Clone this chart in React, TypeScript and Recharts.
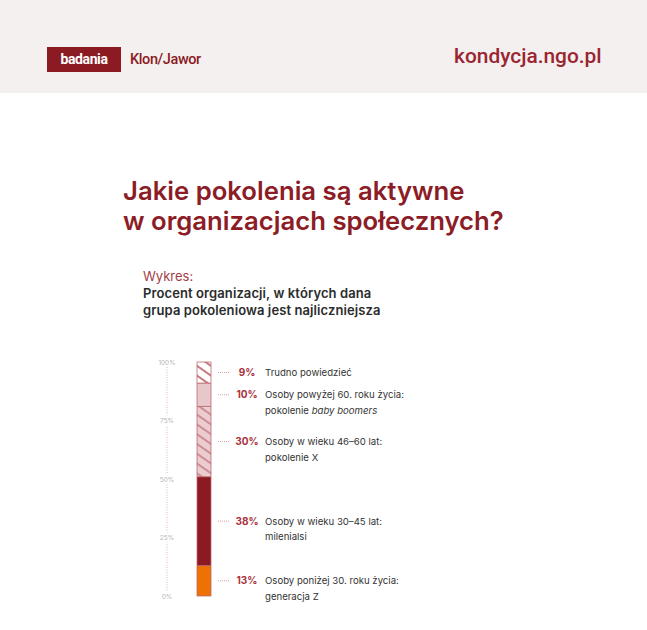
import React from 'react';
import { BarChart, Bar, XAxis, YAxis, LabelList } from 'recharts';

// one stacked column, bottom -> top
const categories = ['Organizacje'];
const seriesKeys = ['genZ', 'milenialsi', 'genX', 'boomers', 'trudno'];
const seriesValues = [13, 38, 30, 10, 9];
const percentLabels = ['13%', '38%', '30%', '10%', '9%'];
const descriptions = [
  ['Osoby poniżej 30. roku życia:', 'generacja Z'],
  ['Osoby w wieku 30–45 lat:', 'milenialsi'],
  ['Osoby w wieku 46–60 lat:', 'pokolenie X'],
  ['Osoby powyżej 60. roku życia:', 'pokolenie |baby boomers'],
  ['Trudno powiedzieć'],
];
const yTicks = [0, 25, 50, 75, 100];
const yTickLabels = ['0%', '25%', '50%', '75%', '100%'];

const fills = ['#EE7203', '#8C1A23', 'url(#hatchPink)', '#E7C7C9', 'url(#hatchWhite)'];

const RED = '#8C1C25';
const FONT = 'Inter, "Noto Sans", sans-serif';

const data = categories.map((name) => {
  const row: Record<string, string | number> = { name };
  seriesKeys.forEach((k, i) => (row[k] = seriesValues[i]));
  return row;
});

const YTick = (props: any) => {
  const { x, y, payload } = props;
  const idx = yTicks.indexOf(payload.value);
  return (
    <g>
      <rect x={x - 11} y={y - 5} width={22} height={10} fill="#fff" />
      <text x={x} y={y} dy={2.5} textAnchor="middle" fontSize={6.5} fill="#B5B5B5" fontFamily={FONT}>
        {yTickLabels[idx]}
      </text>
    </g>
  );
};

const renderLine = (line: string) => {
  const parts = line.split('|');
  if (parts.length === 1) return line;
  return (
    <>
      {parts[0]}
      <tspan fontStyle="italic">{parts[1]}</tspan>
    </>
  );
};

const makeLabel = (i: number) => (props: any) => {
  const vb = props.viewBox ?? props;
  const x = Number(vb.x);
  const y = Number(vb.y);
  const w = Number(vb.width);
  const h = Number(vb.height);
  const cy = y + h / 2;
  const left = x + w;
  return (
    <g fontFamily={FONT}>
      <line x1={left + 7} x2={left + 19} y1={cy} y2={cy} stroke="#C9868B" strokeWidth={0.8} strokeDasharray="1 1" />
      <text x={left + 36} y={cy} dy={3.5} textAnchor="middle" fontSize={10} fontWeight={700} fill="#A8323C">
        {percentLabels[i]}
      </text>
      {descriptions[i].map((line, j) => (
        <text key={j} x={left + 54} y={cy + j * 15.5} dy={3.5} fontSize={9.6} fill="#333">
          {renderLine(line)}
        </text>
      ))}
    </g>
  );
};

export default function App() {
  return (
    <div style={{ position: 'absolute', left: 0, top: 0, width: 647, height: 630, background: '#fff', fontFamily: FONT, overflow: 'hidden' }}>
      <svg width={0} height={0} style={{ position: 'absolute' }}>
        <defs>
          <pattern id="hatchWhite" patternUnits="userSpaceOnUse" width={8} height={8} patternTransform="rotate(35)">
            <rect width={8} height={8} fill="#fff" />
            <line x1={0} y1={1} x2={8} y2={1} stroke="#A9434D" strokeWidth={1.4} />
          </pattern>
          <pattern id="hatchPink" patternUnits="userSpaceOnUse" width={8} height={8} patternTransform="rotate(35)">
            <rect width={8} height={8} fill="#EBCDD0" />
            <line x1={0} y1={1} x2={8} y2={1} stroke="#BD6A72" strokeWidth={1.3} />
          </pattern>
        </defs>
      </svg>

      {/* header band */}
      <div style={{ position: 'absolute', left: 0, top: 0, width: 647, height: 93, background: '#F4F0F0' }} />
      <div style={{ position: 'absolute', left: 47, top: 47, width: 74, height: 25, background: '#8B1A22', color: '#fff', fontFamily: 'Roboto, sans-serif', fontWeight: 700, fontSize: 14, lineHeight: '25px', textAlign: 'center', letterSpacing: -0.4 }}>
        badania
      </div>
      <div style={{ position: 'absolute', left: 130, top: 51, color: '#8B1A22', fontFamily: 'Roboto, sans-serif', fontWeight: 500, fontSize: 14.5, lineHeight: '18px', letterSpacing: -0.4 }}>
        Klon/Jawor
      </div>
      <div style={{ position: 'absolute', left: 454, top: 43, color: '#9A2530', fontFamily: 'Roboto, sans-serif', fontWeight: 500, fontSize: 20.9, lineHeight: '26px' }}>
        kondycja.ngo.pl
      </div>

      {/* title */}
      <div style={{ position: 'absolute', left: 123, top: 175.5, color: RED, fontWeight: 600, fontSize: 25.7, lineHeight: '30.5px', letterSpacing: 0 }}>
        Jakie pokolenia są aktywne
        <br />w organizacjach społecznych?
      </div>
      <div style={{ position: 'absolute', left: 143, top: 268, color: '#A33D47', fontSize: 13, lineHeight: '17px' }}>Wykres:</div>
      <div style={{ position: 'absolute', left: 143, top: 285, color: '#2B2B2B', fontWeight: 600, fontSize: 13, lineHeight: '17px', letterSpacing: 0.1 }}>
        Procent organizacji, w których dana
        <br />
        grupa pokoleniowa jest najliczniejsza
      </div>

      <div style={{ position: 'absolute', left: 120, top: 340 }}>
        <BarChart width={320} height={280} data={data} margin={{ top: 22, right: 199, bottom: 24, left: 27 }} barSize={14}>
          <XAxis dataKey="name" hide />
          <YAxis
            width={20}
            domain={[0, 100]}
            ticks={yTicks}
            interval={0}
            tickLine={false}
            tickSize={0}
            tickMargin={0}
            axisLine={{ stroke: '#D9A3A8', strokeDasharray: '1 1.5', strokeWidth: 0.8 }}
            tick={<YTick />}
          />
          {seriesKeys.map((k, i) => (
            <Bar key={k} dataKey={k} stackId="a" fill={fills[i]} stroke="#BC6870" strokeWidth={0.8} isAnimationActive={false}>
              <LabelList dataKey={k} content={makeLabel(i)} />
            </Bar>
          ))}
        </BarChart>
      </div>
    </div>
  );
}
